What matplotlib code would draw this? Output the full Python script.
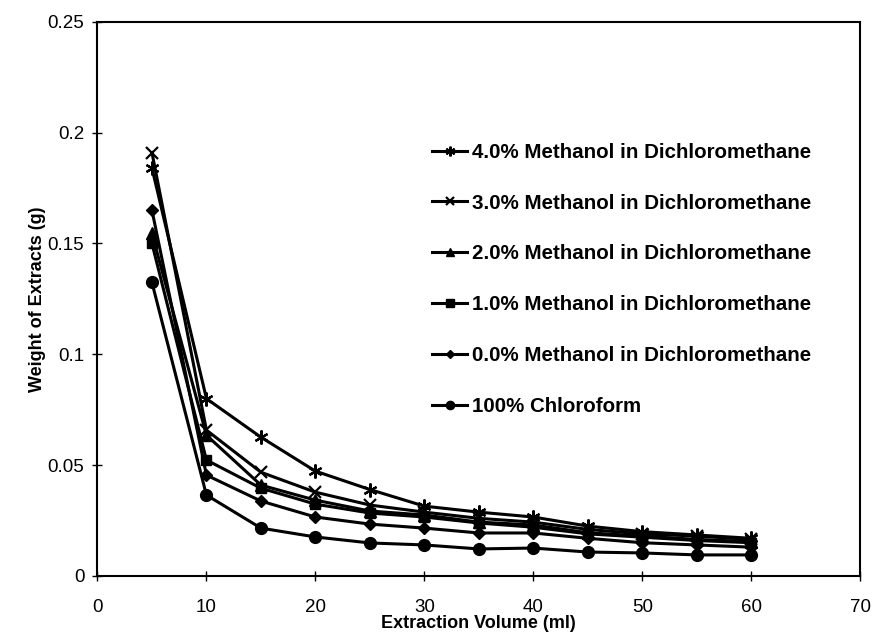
import matplotlib
matplotlib.use("Agg")
import matplotlib.pyplot as plt

plt.rcParams['font.family'] = ['Liberation Sans', 'DejaVu Sans']

volume = [5, 10, 15, 20, 25, 30, 35, 40, 45, 50, 55, 60]
meoh_4 = [0.184, 0.080, 0.0626, 0.0473, 0.039, 0.0315, 0.0288, 0.0266, 0.0225, 0.020, 0.0185, 0.017]
meoh_3 = [0.191, 0.0658, 0.0468, 0.0378, 0.032, 0.0288, 0.026, 0.0243, 0.021, 0.019, 0.018, 0.0165]
meoh_2 = [0.1545, 0.0635, 0.041, 0.0342, 0.0293, 0.0275, 0.0243, 0.023, 0.0195, 0.018, 0.0165, 0.0155]
meoh_1 = [0.150, 0.0523, 0.0396, 0.0324, 0.0284, 0.0266, 0.0239, 0.022, 0.019, 0.0175, 0.016, 0.015]
meoh_0 = [0.165, 0.0455, 0.0338, 0.0266, 0.0234, 0.0216, 0.0194, 0.0194, 0.017, 0.015, 0.014, 0.013]
chloroform = [0.1324, 0.0365, 0.0216, 0.0176, 0.0149, 0.014, 0.0122, 0.0126, 0.0108, 0.0104, 0.0095, 0.0095]

labels = ["4.0% Methanol in Dichloromethane",
          "3.0% Methanol in Dichloromethane",
          "2.0% Methanol in Dichloromethane",
          "1.0% Methanol in Dichloromethane",
          "0.0% Methanol in Dichloromethane",
          "100% Chloroform"]

series = [meoh_4, meoh_3, meoh_2, meoh_1, meoh_0, chloroform]
markers = [(6, 2, 0), 'x', '^', 's', 'D', 'o']
msizes = [10, 9, 8, 7.5, 6, 8.5]
mews = [1.6, 1.6, 1, 1, 1, 1]

fig = plt.figure(figsize=(8.75, 6.38), dpi=100)
ax = fig.add_axes([0.1114, 0.0972, 0.8716, 0.8688])

for ys, lab, m, ms, mew in zip(series, labels, markers, msizes, mews):
    ax.plot(volume, ys, color='black', linewidth=2.2, marker=m, markersize=ms,
            markeredgewidth=mew, markerfacecolor='black', markeredgecolor='black',
            label=lab)

ax.set_xlim(0, 70)
ax.set_ylim(0, 0.25)
ax.set_xticks([0, 10, 20, 30, 40, 50, 60, 70])
ax.set_yticks([0, 0.05, 0.1, 0.15, 0.2, 0.25])
ax.set_yticklabels(['0', '0.05', '0.1', '0.15', '0.2', '0.25'])
ax.tick_params(axis='both', direction='inout', length=7, width=1, labelsize=13.5, colors='black')
ax.tick_params(axis='x', pad=13)
ax.tick_params(axis='y', pad=6)
for s in ax.spines.values():
    s.set_linewidth(1.5)
    s.set_color('black')

ax.set_xlabel('Extraction Volume (ml)', fontsize=13, fontweight='bold', labelpad=-1)
ax.set_ylabel('Weight of Extracts (g)', fontsize=13, fontweight='bold', labelpad=1)

leg = ax.legend(loc='upper left', bbox_to_anchor=(0.415, 0.815), frameon=False,
                prop={'weight': 'bold', 'size': 14.8}, handlelength=1.7,
                handletextpad=0.2, labelspacing=1.55, markerscale=0.7)

fig.savefig('out.png', dpi=100)
